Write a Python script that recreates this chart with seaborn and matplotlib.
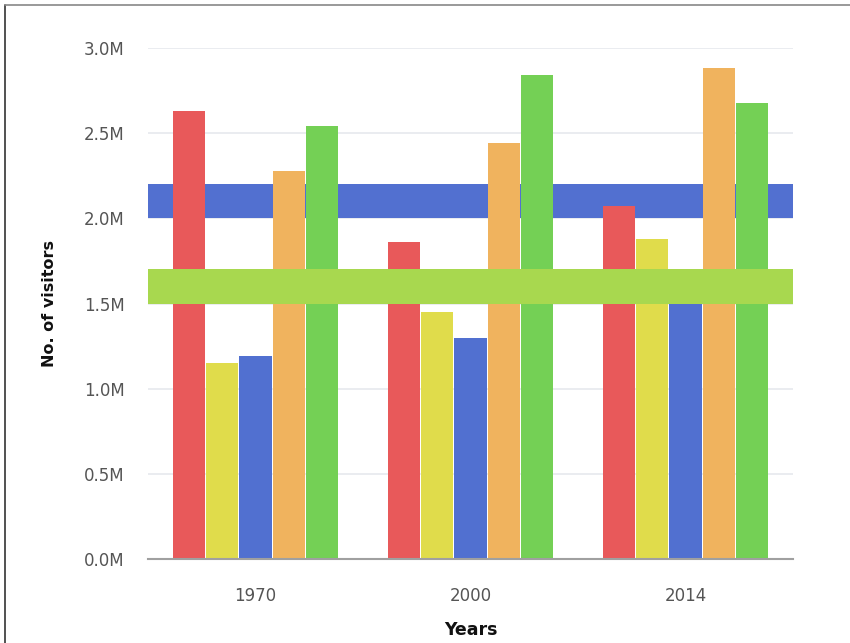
import numpy as np
import pandas as pd
import seaborn as sns
import matplotlib.pyplot as plt
from matplotlib.lines import Line2D
from matplotlib.ticker import FuncFormatter, MultipleLocator

# values in millions of visitors
years = ['1970', '2000', '2014']
series = ['Series 1', 'Series 2', 'Series 3', 'Series 4', 'Series 5']
visitors = {
    'Series 1': [2.63, 1.86, 2.07],
    'Series 2': [1.15, 1.45, 1.88],
    'Series 3': [1.19, 1.30, 1.60],
    'Series 4': [2.28, 2.44, 2.88],
    'Series 5': [2.54, 2.84, 2.68],
}
colors = ['#E8595A', '#E0DC4B', '#5170D0', '#F0B35E', '#74D055']
# plot bands (from, to)
blue_band = (2.0, 2.2)
green_band = (1.5, 1.7)


def main():
    rows = []
    for s in series:
        for y, v in zip(years, visitors[s]):
            rows.append({'Years': y, 'Series': s, 'Visitors': v})
    df = pd.DataFrame(rows)

    sns.set_style('white')
    plt.rcParams['font.family'] = ['DejaVu Sans']

    fig = plt.figure(figsize=(8.5, 6.43), dpi=100)
    ax = fig.add_axes([148 / 850, 1 - 559 / 643, (793 - 148) / 850, (559 - 48) / 643])

    sns.barplot(data=df, x='Years', y='Visitors', hue='Series', palette=colors,
                saturation=1, width=0.77, gap=0.03, legend=False, ax=ax,
                zorder=2, linewidth=0, edgecolor='none')

    # blue band sits under the columns, green band on top of them
    ax.axhspan(*blue_band, color='#5270D0', zorder=1.5, lw=0)
    ax.axhspan(*green_band, color='#A8D84F', zorder=3, lw=0)

    ax.set_ylim(0, 3.0)
    ax.yaxis.set_major_locator(MultipleLocator(0.5))
    ax.yaxis.set_major_formatter(FuncFormatter(lambda v, p: f'{v:.1f}M'))
    ax.grid(axis='y', color='#E6E9EE', lw=1.2, zorder=0)
    ax.set_axisbelow(True)
    for side in ['top', 'right', 'left']:
        ax.spines[side].set_visible(False)
    ax.spines['bottom'].set_color('#A0A0A0')
    ax.spines['bottom'].set_linewidth(1.5)

    ax.tick_params(axis='y', length=0, pad=17, labelsize=12, labelcolor='#555555')
    ax.tick_params(axis='x', length=0, pad=20, labelsize=12, labelcolor='#555555')
    ax.set_ylabel('No. of visitors', fontsize=11.5, fontweight='bold', labelpad=19,
                  color='#111111')
    ax.set_xlabel('Years', fontsize=12.5, fontweight='bold', labelpad=12,
                  color='#111111')

    # frame of the original screenshot
    fig.add_artist(Line2D([4.5 / 850, 4.5 / 850], [0, 1 - 5 / 643], color='#333333', lw=1.2))
    fig.add_artist(Line2D([4.5 / 850, 1], [1 - 5 / 643, 1 - 5 / 643], color='#888888', lw=1.2))

    fig.savefig('out.png', dpi=100)


if __name__ == '__main__':
    main()
